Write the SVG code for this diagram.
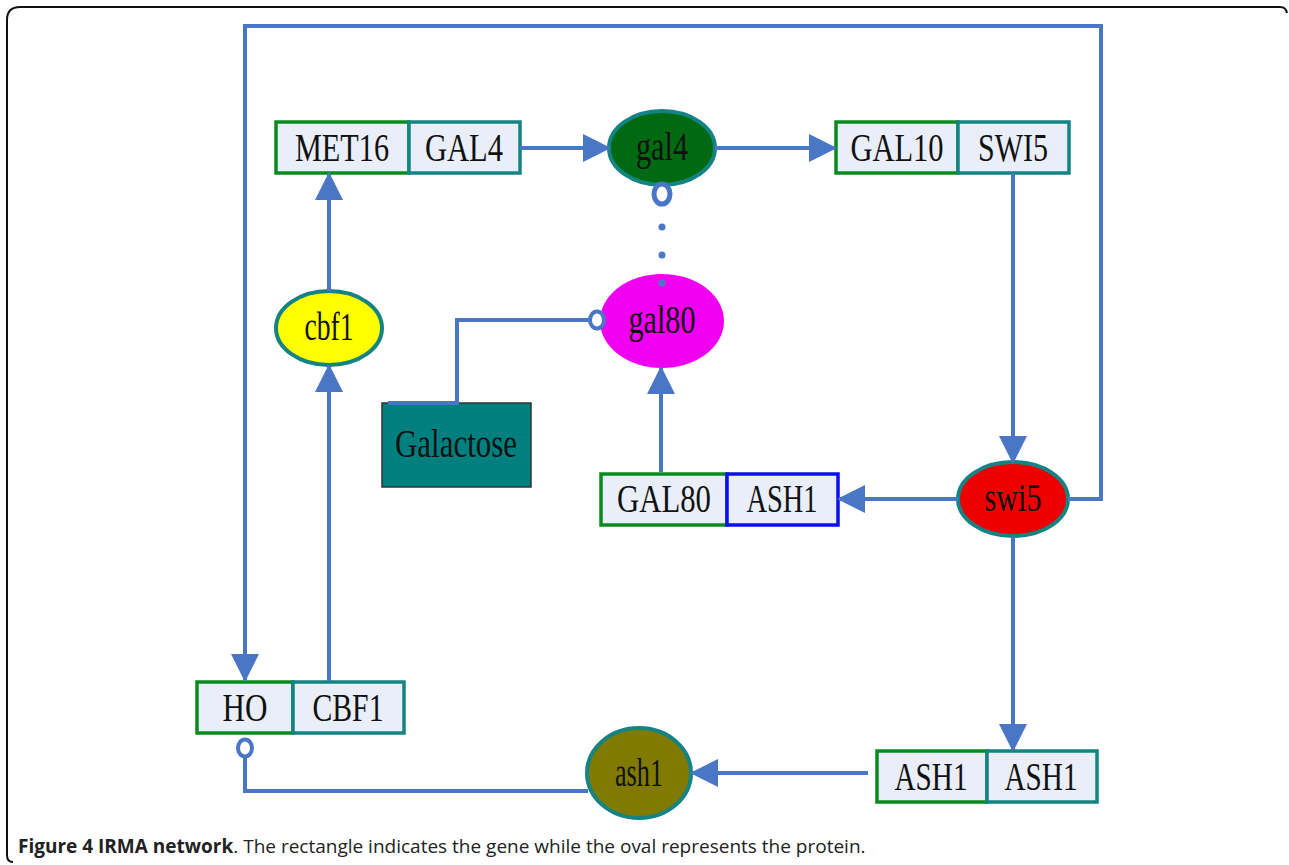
<svg xmlns="http://www.w3.org/2000/svg" width="1289" height="865" viewBox="0 0 1289 865">
<style>
.c{fill:none;stroke:#4A76C6;stroke-width:4;}
.box{fill:#E9EEF8;stroke-width:3.5;}
.g{stroke:#0A8A1E;}
.t{stroke:#138383;}
.b{stroke:#0A10F0;}
.lbl{font-family:"Liberation Serif","Times New Roman",serif;font-size:41px;fill:#111;text-anchor:middle;}
.cap{font-family:"Open Sans","Noto Sans",sans-serif;font-size:19px;fill:#222;}
</style>
<defs>
<marker id="ah" markerUnits="userSpaceOnUse" markerWidth="28" markerHeight="28" viewBox="0 0 28 28" refX="26" refY="14" orient="auto">
<path d="M0,0 L28,14 L0,28 Z" fill="#4A76C6"/>
</marker>
</defs>
<path d="M1287,13 Q1286,7 1280,7 L20,7 Q7,7 7,20 L7,855 Q7,862 13,862" fill="none" stroke="#111" stroke-width="2"/>

<g id="met16-gal4">
<rect class="box g" x="276" y="122" width="133" height="51"/>
<rect class="box t" x="409" y="122" width="111" height="51"/>
<text class="lbl" x="342" y="161" textLength="94" lengthAdjust="spacingAndGlyphs">MET16</text>
<text class="lbl" x="464" y="161" textLength="78" lengthAdjust="spacingAndGlyphs">GAL4</text>
</g>

<g id="gal4">
<ellipse cx="662" cy="148" rx="53" ry="37" fill="#006A12" stroke="#138383" stroke-width="4"/>
<text class="lbl" x="662" y="160" textLength="52" lengthAdjust="spacingAndGlyphs">gal4</text>
</g>

<g id="gal10-swi5">
<rect class="box g" x="836" y="122" width="122" height="51"/>
<rect class="box t" x="958" y="122" width="111" height="51"/>
<text class="lbl" x="897" y="161" textLength="93" lengthAdjust="spacingAndGlyphs">GAL10</text>
<text class="lbl" x="1013" y="161" textLength="70" lengthAdjust="spacingAndGlyphs">SWI5</text>
</g>

<g id="swi5">
<ellipse cx="1013" cy="499" rx="55" ry="37" fill="#EE0000" stroke="#138383" stroke-width="4"/>
<text class="lbl" x="1013" y="511" textLength="57" lengthAdjust="spacingAndGlyphs">swi5</text>
</g>

<g id="gal80-ash1">
<rect class="box g" x="601" y="474" width="126" height="51"/>
<rect class="box b" x="727" y="474" width="111" height="51"/>
<text class="lbl" x="664" y="512" textLength="94" lengthAdjust="spacingAndGlyphs">GAL80</text>
<text class="lbl" x="782" y="512" textLength="71" lengthAdjust="spacingAndGlyphs">ASH1</text>
</g>

<g id="gal80">
<ellipse cx="662" cy="321" rx="62" ry="47" fill="#F000F0"/>
<text class="lbl" x="662" y="333" textLength="67" lengthAdjust="spacingAndGlyphs">gal80</text>
</g>

<g id="galactose">
<rect x="382" y="403" width="149" height="84" fill="#007F7F" stroke="#333" stroke-width="1.5"/>
<text class="lbl" x="456" y="457" textLength="122" lengthAdjust="spacingAndGlyphs">Galactose</text>
</g>

<g id="cbf1">
<ellipse cx="329" cy="328" rx="53" ry="37" fill="#FFFF00" stroke="#138383" stroke-width="4"/>
<text class="lbl" x="329" y="340" textLength="49" lengthAdjust="spacingAndGlyphs">cbf1</text>
</g>

<g id="ho-cbf1">
<rect class="box g" x="197" y="682" width="96" height="51"/>
<rect class="box t" x="293" y="682" width="111" height="51"/>
<text class="lbl" x="245" y="721" textLength="45" lengthAdjust="spacingAndGlyphs">HO</text>
<text class="lbl" x="348" y="721" textLength="71" lengthAdjust="spacingAndGlyphs">CBF1</text>
</g>

<g id="ash1">
<ellipse cx="639" cy="773" rx="52" ry="45" fill="#807A00" stroke="#138383" stroke-width="4"/>
<text class="lbl" x="639" y="786" textLength="48" lengthAdjust="spacingAndGlyphs">ash1</text>
</g>

<g id="ash1-ash1">
<rect class="box g" x="877" y="751" width="110" height="51"/>
<rect class="box t" x="987" y="751" width="110" height="51"/>
<text class="lbl" x="931" y="790" textLength="73" lengthAdjust="spacingAndGlyphs">ASH1</text>
<text class="lbl" x="1041" y="790" textLength="73" lengthAdjust="spacingAndGlyphs">ASH1</text>
</g>

<g id="connectors">
<path class="c" d="M1068,499 L1101,499 L1101,26 L245,26 L245,680" marker-end="url(#ah)"/>
<path class="c" d="M520,148 L609,148" marker-end="url(#ah)"/>
<path class="c" d="M715,148 L835,148" marker-end="url(#ah)"/>
<path class="c" d="M1013,173 L1013,462" marker-end="url(#ah)"/>
<path class="c" d="M958,499 L839,499" marker-end="url(#ah)"/>
<path class="c" d="M661,472 L661,368" marker-end="url(#ah)"/>
<path class="c" d="M329,291 L329,174" marker-end="url(#ah)"/>
<path class="c" d="M329,681 L329,366" marker-end="url(#ah)"/>
<path class="c" d="M1013,537 L1013,750" marker-end="url(#ah)"/>
<path class="c" d="M868,773 L692,773" marker-end="url(#ah)"/>
<path class="c" d="M388,403 L457,403 L457,320 L590,320"/>
<ellipse cx="597" cy="320" rx="7" ry="8.5" fill="#fff" stroke="#4A76C6" stroke-width="4"/>
<path class="c" d="M245,757 L245,791 L588,791"/>
<ellipse cx="245" cy="748" rx="7" ry="8.5" fill="#fff" stroke="#4A76C6" stroke-width="4"/>
<ellipse cx="662" cy="194" rx="8" ry="10" fill="#fff" stroke="#4A76C6" stroke-width="5"/>
<circle cx="662" cy="227" r="3.5" fill="#4A76C6"/>
<circle cx="662" cy="255" r="3.5" fill="#4A76C6"/>
<circle cx="662" cy="283" r="3.5" fill="#4A76C6"/>
</g>

<text class="cap" x="18" y="853"><tspan font-weight="bold">Figure 4 IRMA network</tspan>. The rectangle indicates the gene while the oval represents the protein.</text>
</svg>
